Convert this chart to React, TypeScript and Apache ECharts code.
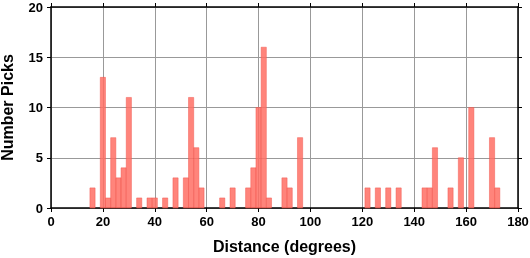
import React, { useEffect, useRef } from "react";
import * as echarts from "echarts";

const binCenters = [16, 20, 22, 24, 26, 28, 30, 34, 38, 40, 44, 48, 52, 54, 56, 58, 66, 70, 76, 78, 80, 82, 84, 90, 92, 96, 122, 126, 130, 134, 144, 146, 148, 154, 158, 162, 170, 172];
const picks = [2, 13, 1, 7, 3, 4, 11, 1, 1, 1, 1, 3, 3, 11, 6, 2, 1, 2, 2, 4, 10, 16, 1, 3, 2, 7, 2, 2, 2, 2, 2, 2, 6, 2, 5, 10, 7, 2];
const binWidth = 2;

export default function App() {
  const ref = useRef<HTMLDivElement>(null);
  useEffect(() => {
    if (!ref.current) return;
    const chart = echarts.init(ref.current, null, { renderer: "svg" });
    const font = "Liberation Sans, Arial, sans-serif";
    const tickLabel = { fontFamily: font, fontWeight: "bold" as const, fontSize: 13, color: "#000" };
    chart.setOption({
      animation: false,
      grid: { left: 51, right: 12, top: 7, bottom: 50, containLabel: false, outerBoundsMode: "none" },
      xAxis: [
        {
          type: "value", min: 0, max: 180, interval: 20, position: "bottom",
          name: "Distance (degrees)", nameLocation: "middle", nameGap: 30,
          nameTextStyle: { fontFamily: font, fontWeight: "bold", fontSize: 16, color: "#000" },
          axisLine: { show: true, onZero: false, lineStyle: { color: "#000", width: 1.5 } },
          axisTick: { show: true, length: 4, lineStyle: { color: "#000" } },
          axisLabel: { ...tickLabel, margin: 7 },
          splitLine: { show: true, lineStyle: { color: "#999", width: 1 } },
        },
        {
          type: "value", min: 0, max: 180, interval: 20, position: "top",
          axisLine: { show: true, onZero: false, lineStyle: { color: "#000", width: 1.5 } },
          axisTick: { show: true, length: 4, lineStyle: { color: "#000" } },
          axisLabel: { show: false },
          splitLine: { show: false },
        },
      ],
      yAxis: [
        {
          type: "value", min: 0, max: 20, interval: 5, position: "left",
          name: "Number Picks", nameLocation: "middle", nameGap: 36, nameRotate: 90,
          nameTextStyle: { fontFamily: font, fontWeight: "bold", fontSize: 16, color: "#000" },
          axisLine: { show: true, onZero: false, lineStyle: { color: "#000", width: 1.5 } },
          axisTick: { show: true, length: 4, lineStyle: { color: "#000" } },
          axisLabel: { ...tickLabel, margin: 8 },
          splitLine: { show: true, lineStyle: { color: "#999", width: 1 } },
        },
        {
          type: "value", min: 0, max: 20, interval: 5, position: "right",
          axisLine: { show: true, onZero: false, lineStyle: { color: "#000", width: 1.5 } },
          axisTick: { show: true, length: 4, lineStyle: { color: "#000" } },
          axisLabel: { show: false },
          splitLine: { show: false },
        },
      ],
      series: [
        {
          type: "custom",
          xAxisIndex: 0,
          yAxisIndex: 0,
          data: binCenters.map((c, i) => [c, picks[i]]),
          renderItem: (params: any, api: any) => {
            const c = api.value(0);
            const v = api.value(1);
            const p0 = api.coord([c - binWidth / 2, v]);
            const p1 = api.coord([c + binWidth / 2, 0]);
            return {
              type: "rect",
              shape: { x: p0[0], y: p0[1], width: p1[0] - p0[0], height: p1[1] - p0[1] },
              style: { fill: "rgba(255,110,100,0.85)", stroke: "rgba(240,80,70,0.9)", lineWidth: 0.5 },
            };
          },
        },
      ],
    });
    return () => chart.dispose();
  }, []);
  return <div ref={ref} style={{ position: "fixed", left: 0, top: 0, width: 530, height: 258 }} />;
}
